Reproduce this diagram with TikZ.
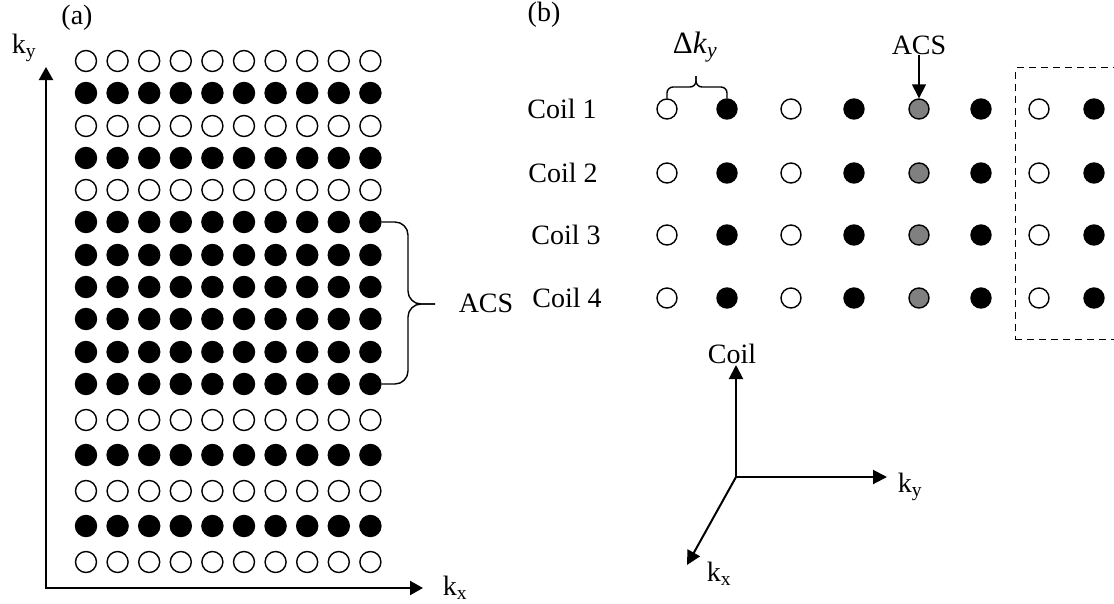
\documentclass[tikz,border=0pt]{standalone}
\usepackage{fontspec}
\setmainfont{Liberation Serif}
\usetikzlibrary{positioning,arrows.meta,fit,calc}

\begin{document}
\begin{tikzpicture}[x=1pt,y=-1pt,font=\fontsize{28}{32}\selectfont,
    dot/.style={circle,draw,line width=1.4pt,inner sep=0pt,minimum size=20pt},
    hole/.style={dot,fill=white},
    sampled/.style={dot,fill=black},
    acsdot/.style={dot,fill=gray},
    lbl/.style={inner sep=1pt},
    axis/.style={line width=2pt,-{Triangle[length=14pt,width=14pt]}},
    bracket/.style={line width=1.4pt}]
  \useasboundingbox (0,0) rectangle (1114,603);

  % (a) k-space grid, ACS rows in the middle
  \node[lbl] (alab) at (77,18) {(a)};
  \foreach \r/\y/\s in {1/61/hole,2/93/sampled,3/126/hole,4/158/sampled,5/190/hole,
      6/222/sampled,7/255/sampled,8/287/sampled,9/319/sampled,10/352/sampled,
      11/384/sampled,12/420/hole,13/455/sampled,14/491/hole,15/526/sampled,16/562/hole}
    \foreach \c in {1,...,10}
      \node[\s,minimum size=21pt] (ka-\r-\c) at ({86+31.6*(\c-1)},\y) {};

  \coordinate (aO) at (46,588);
  \coordinate (aYtip) at (46,67);
  \coordinate (aXtip) at (423,588);
  \draw[line width=2.2pt,{Triangle[length=13pt,width=14pt]}-{Triangle[length=13pt,width=14pt]}]
    (aYtip) -- (aO) -- (aXtip);
  \node[lbl] (aky) at (24,48) {k\textsubscript{y}};
  \node[lbl] (akx) at (455,588) {k\textsubscript{x}};

  \coordinate (acsTip) at (435,304);
  \draw[bracket,rounded corners=13pt] (ka-6-10.east) -| (408,304) -- (acsTip);
  \draw[bracket,rounded corners=13pt] (ka-11-10.east) -| (408,304) -- (acsTip);
  \node[lbl] (acsA) at (486,303) {ACS};

  % (b) coils along k_y
  \node[lbl] (blab) at (544,15) {(b)};
  \foreach \r/\y in {1/109,2/173,3/235,4/298}
    \foreach \c/\x/\s in {1/667/hole,2/727/sampled,3/791/hole,4/854/sampled,
        5/919/acsdot,6/981/sampled,7/1039/hole,8/1094/sampled}
      \node[\s] (cb-\r-\c) at (\x,\y) {};
  \foreach \r/\x/\y in {1/562/109,2/563/173,3/566/235,4/567/298}
    \node[lbl] (coil\r) at (\x,\y) {Coil \r};

  \coordinate (dkTip) at (696,76);
  \draw[bracket,rounded corners=6pt] (cb-1-1.north) |- (696,87) -- (dkTip);
  \draw[bracket,rounded corners=6pt] (cb-1-2.north) |- (696,87) -- (dkTip);
  \node[lbl,font=\fontsize{31}{34}\selectfont] (dky) at (695,47)
    {Δ\textit{k}\textsubscript{\textit{y}}};

  \node[inner sep=0pt] (acsB) at (919,45) {ACS};
  \draw[line width=1.5pt,-{Triangle[length=14pt,width=14pt]}] (acsB.south) -- (cb-1-5.north);

  \node[draw,line width=1.2pt,dash pattern=on 7pt off 5pt,inner xsep=13pt,inner ysep=30.5pt,
    fit=(cb-1-7)(cb-4-8)] (calib) {};

  % 3D axes
  \coordinate (bO) at (736,477);
  \coordinate (bUp) at (736,365);
  \coordinate (bRight) at (887,477);
  \coordinate (bDown) at (687,565);
  \draw[axis] (bO) -- (bUp);
  \draw[axis] (bO) -- (bRight);
  \draw[axis] (bO) -- (bDown);
  \node[lbl] (bcoil) at (732,354) {Coil};
  \node[lbl] (bky) at (910,487) {k\textsubscript{y}};
  \node[lbl] (bkx) at (719,574) {k\textsubscript{x}};
\end{tikzpicture}
\end{document}
